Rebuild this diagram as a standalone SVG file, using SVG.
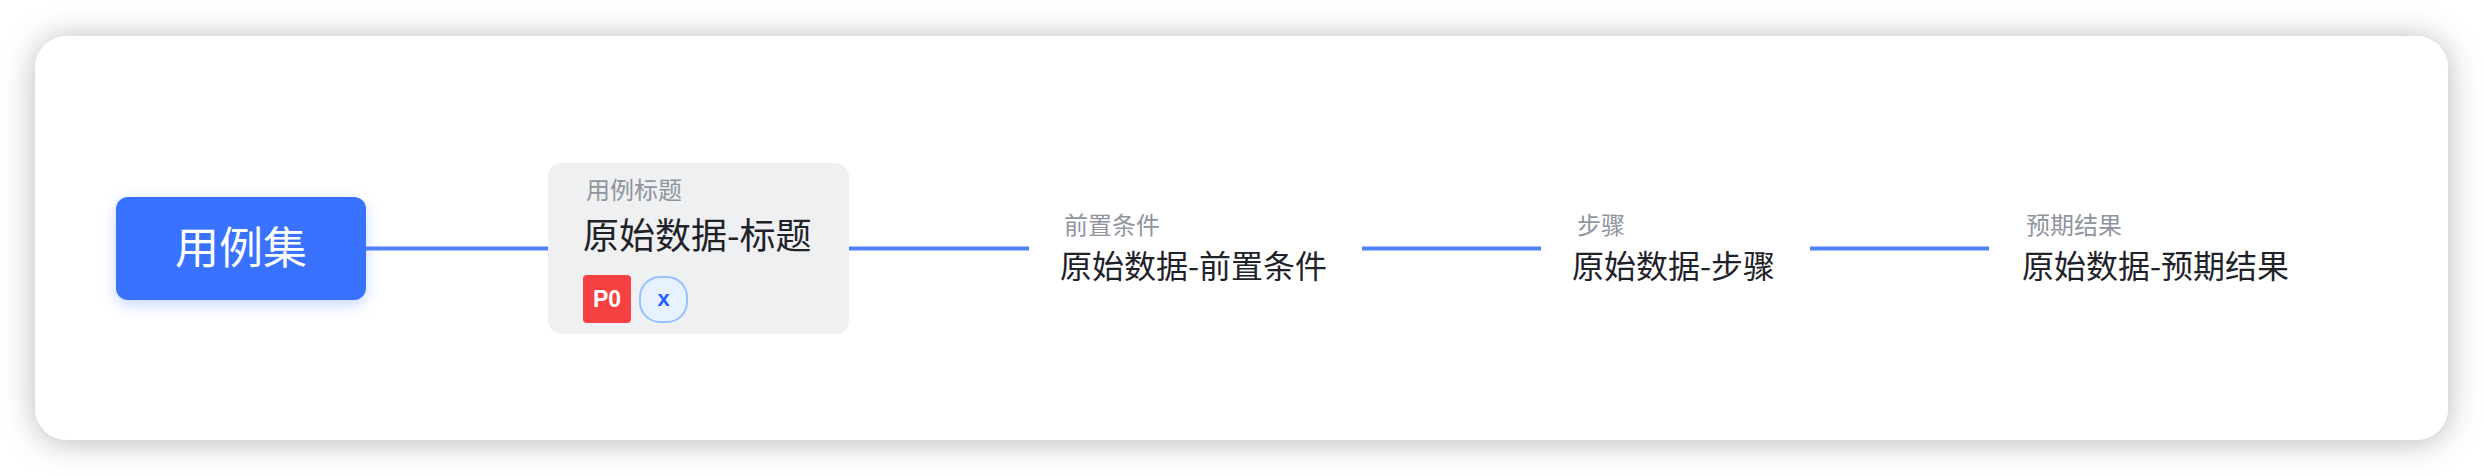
<svg xmlns="http://www.w3.org/2000/svg" width="2484" height="476" viewBox="0 0 2484 476">
<style>
.lbl{font-family:"Noto Sans CJK SC","Noto Sans",sans-serif;font-size:24px;fill:#8f959e}
.ttl{font-family:"Noto Sans CJK SC","Noto Sans",sans-serif;font-size:32px;fill:#1f2329}
.ttl-big{font-size:36px}
.conn{stroke:#4e80ff;stroke-width:4;fill:none}
</style>
<defs>
<filter id="cardShadow" x="-5%" y="-30%" width="110%" height="160%">
<feGaussianBlur in="SourceAlpha" stdDeviation="16"/>
<feOffset dy="2" result="b"/>
<feFlood flood-color="#000" flood-opacity="0.28"/>
<feComposite in2="b" operator="in"/>
<feMerge><feMergeNode/><feMergeNode in="SourceGraphic"/></feMerge>
</filter>
<filter id="rootShadow" x="-20%" y="-30%" width="140%" height="170%">
<feGaussianBlur in="SourceAlpha" stdDeviation="7"/>
<feOffset dy="5" result="b"/>
<feFlood flood-color="#3772ff" flood-opacity="0.28"/>
<feComposite in2="b" operator="in"/>
<feMerge><feMergeNode/><feMergeNode in="SourceGraphic"/></feMerge>
</filter>
</defs>
<rect width="2484" height="476" fill="#ffffff"/>
<rect id="card" x="35" y="36" width="2413" height="404" rx="32" fill="#ffffff" filter="url(#cardShadow)"/>
<g id="connectors">
<line class="conn" x1="366" y1="248.5" x2="548" y2="248.5"/>
<line class="conn" x1="849" y1="248.5" x2="1029" y2="248.5"/>
<line class="conn" x1="1362" y1="248.5" x2="1541" y2="248.5"/>
<line class="conn" x1="1810" y1="248.5" x2="1989" y2="248.5"/>
</g>
<g id="root">
<rect x="116" y="197" width="250" height="103" rx="12" fill="#3772ff" filter="url(#rootShadow)"/>
<text x="241" y="264" text-anchor="middle" font-family="Noto Sans CJK SC, Noto Sans, sans-serif" font-size="44" fill="#ffffff">用例集</text>
</g>
<g id="node-title">
<rect x="548" y="163" width="301" height="171" rx="14" fill="#eef0f2"/>
<text class="lbl" x="586" y="199">用例标题</text>
<text class="ttl ttl-big" x="583" y="248.5">原始数据-标题</text>
<g id="tag-p0">
<rect x="583" y="275" width="48" height="48" rx="4" fill="#f64041"/>
<text x="607" y="307" text-anchor="middle" font-family="Liberation Sans, Arial, sans-serif" font-size="23" font-weight="bold" fill="#ffffff">P0</text>
</g>
<g id="tag-x">
<rect x="640" y="277" width="47" height="45" rx="20" fill="#e8f2ff" stroke="#94c2ff" stroke-width="2"/>
<text x="663.5" y="306" text-anchor="middle" font-family="Liberation Sans, Arial, sans-serif" font-size="22" font-weight="bold" fill="#1f5cff">x</text>
</g>
</g>
<g id="node-precondition">
<text class="lbl" x="1064" y="233.5">前置条件</text>
<text class="ttl" x="1060" y="278">原始数据-前置条件</text>
</g>
<g id="node-steps">
<text class="lbl" x="1577" y="233.5">步骤</text>
<text class="ttl" x="1572" y="278">原始数据-步骤</text>
</g>
<g id="node-expected">
<text class="lbl" x="2026" y="233.5">预期结果</text>
<text class="ttl" x="2022" y="278">原始数据-预期结果</text>
</g>
</svg>
